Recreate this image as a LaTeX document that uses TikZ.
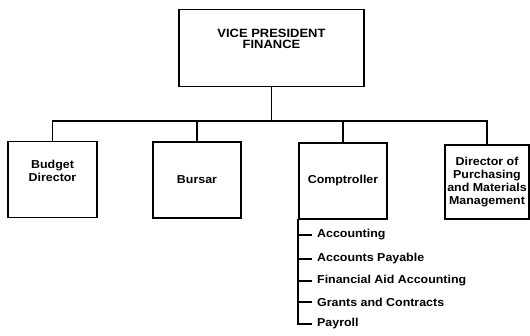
\documentclass[tikz,border=0pt]{standalone}
\usepackage{fontspec}
\setmainfont{Liberation Sans}
\newfontfamily\chartfont[FakeStretch=1.08]{Liberation Sans Bold}
\begin{document}
\begin{tikzpicture}[x=1pt,y=-1pt,
  box/.style={draw,line width=1.4pt,inner sep=0pt,align=center,font=\chartfont\fontsize{11.5}{13}\selectfont},
  txt/.style={inner sep=0pt,align=center,font=\chartfont\fontsize{11.5}{13}\selectfont},
  link/.style={line width=1.3pt},
  item/.style={anchor=west,inner sep=0pt,font=\chartfont\fontsize{11.5}{12}\selectfont}]
\useasboundingbox (0,0) rectangle (530,336);
% head of the division
\node[box,minimum width=185,minimum height=77] (vp) at (271.5,48) {};
\node[txt,font=\chartfont\fontsize{12}{11.5}\selectfont] (vpt) at (271.5,39) {VICE PRESIDENT\\FINANCE};
% departments
\node[box,minimum width=89,minimum height=76] (bud) at (52.5,179.5) {};
\node[txt] (budt) at (52.5,171) {Budget\\Director};
\node[box,minimum width=88,minimum height=76] (bur) at (197,180) {Bursar};
\node[box,minimum width=88,minimum height=76] (comp) at (343,181) {Comptroller};
\node[box,minimum width=84,minimum height=74] (pur) at (487,182) {Director of\\Purchasing\\and Materials\\Management};
% connectors
\coordinate (bus) at (271.5,121);
\draw[link] (vp.south) -- (bus);
\draw[link] (bud.north) |- (bus) -| (pur.north);
\draw[link] (bur.north) -- (bur.north |- bus);
\draw[link] (comp.north) -- (comp.north |- bus);
% comptroller sub-units
\coordinate (spine) at (298,219);
\node[item] (a1) at (317,235) {Accounting};
\node[item] (a2) at (317,259) {Accounts Payable};
\node[item] (a3) at (317,281) {Financial Aid Accounting};
\node[item] (a4) at (317,302) {Grants and Contracts};
\node[item] (a5) at (317,324) {Payroll};
\draw[link] (spine) |- ([xshift=-5pt]a5.west);
\foreach \n in {a1,a2,a3,a4}
  \draw[link] (spine |- \n.west) -- ([xshift=-5pt]\n.west);
\end{tikzpicture}
\end{document}
